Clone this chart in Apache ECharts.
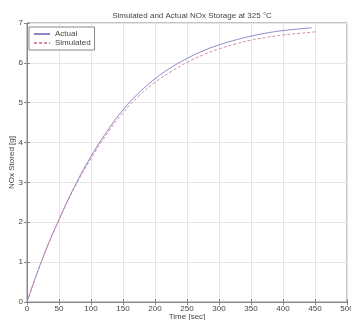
<!DOCTYPE html>
<html><head><meta charset="utf-8">
<script src="https://cdn.jsdelivr.net/npm/echarts@6/dist/echarts.min.js"></script>
<style>html,body{margin:0;padding:0;background:#fff}#c{width:351px;height:320px}</style>
</head><body><div id="c"></div>
<script>
const timeActual = [0,25,50,75,100,125,150,175,200,225,250,275,300,325,350,375,400,425,445];
const actual     = [0,1.12,2.07,2.92,3.65,4.28,4.82,5.25,5.6,5.88,6.11,6.3,6.45,6.57,6.67,6.75,6.81,6.85,6.88];
const timeSim    = [0,25,50,75,100,125,150,175,200,225,250,275,300,325,350,375,400,425,452];
const simulated  = [0,1.11,2.05,2.89,3.6,4.22,4.75,5.17,5.51,5.78,6.01,6.2,6.35,6.47,6.57,6.64,6.7,6.74,6.78];
const titleText = 'Simulated and Actual NOx Storage at 325 °C';
const xName = 'Time [sec]';
const yName = 'NOx Stored [g]';

const font = 'Liberation Sans, Arial, sans-serif';
const chart = echarts.init(document.getElementById('c'));
const axisCommon = {
  axisLine:{show:true,lineStyle:{color:'#888',width:1}},
  axisTick:{show:true,inside:true,length:3,lineStyle:{color:'#888'}},
};
chart.setOption({
  animation:false,
  backgroundColor:'#fff',
  title:{text:titleText,left:187,textAlign:'center',top:7,textStyle:{fontSize:8,fontWeight:'normal',color:'#444',fontFamily:font}},
  grid:{left:27,right:4,top:23,bottom:18,show:true,borderColor:'#888',borderWidth:1,containLabel:false,outerBoundsMode:'none'},
  legend:{left:29,top:27,orient:'vertical',itemGap:1,itemWidth:16,itemHeight:6,padding:[3,4,3,4],
    borderColor:'#888',borderWidth:1,borderRadius:0,backgroundColor:'#fff',
    itemStyle:{opacity:0},
    textStyle:{fontSize:8,color:'#444',fontFamily:font},data:['Actual','Simulated']},
  xAxis:[
    Object.assign({type:'value',min:0,max:500,interval:50,name:xName,nameLocation:'middle',nameGap:11,nameMoveOverlap:false,
      nameTextStyle:{fontSize:8,color:'#444',fontFamily:font},
      axisLabel:{fontSize:8,color:'#444',margin:3,fontFamily:font},
      splitLine:{show:true,lineStyle:{color:'#e6e6e6',width:1}}},axisCommon),
    Object.assign({type:'value',position:'top',min:0,max:500,interval:50,axisLabel:{show:false},splitLine:{show:false}},axisCommon)
  ],
  yAxis:[
    Object.assign({type:'value',min:0,max:7,interval:1,name:yName,nameLocation:'middle',nameGap:11,nameMoveOverlap:false,
      nameTextStyle:{fontSize:8,color:'#444',fontFamily:font},
      axisLabel:{fontSize:8,color:'#444',margin:4,fontFamily:font},
      splitLine:{show:true,lineStyle:{color:'#e6e6e6',width:1}}},axisCommon),
    Object.assign({type:'value',position:'right',min:0,max:7,interval:1,axisLabel:{show:false},splitLine:{show:false}},axisCommon)
  ],
  series:[
    {name:'Actual',type:'line',smooth:true,symbol:'none',data:timeActual.map((t,i)=>[t,actual[i]]),
      lineStyle:{color:'#8a86c6',width:1},itemStyle:{color:'#8a86c6'}},
    {name:'Simulated',type:'line',smooth:true,symbol:'none',data:timeSim.map((t,i)=>[t,simulated[i]]),
      lineStyle:{color:'#d68aa6',width:1,type:[3,2]},itemStyle:{color:'#d68aa6'}}
  ]
});
</script></body></html>
